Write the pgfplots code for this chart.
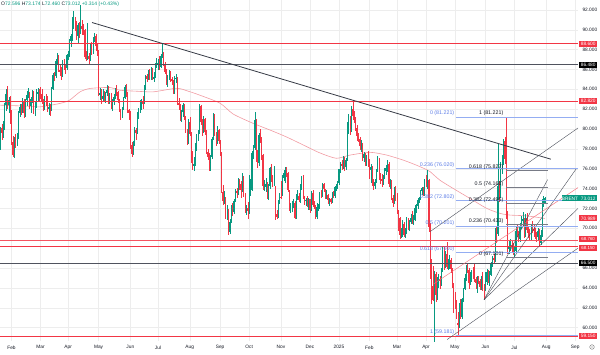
\documentclass[border=0pt]{standalone}
\usepackage{pgfplots}
\usepackage{pgfplotstable}
\pgfplotsset{compat=1.18}
\usepackage{fontspec}
\setmainfont{Liberation Sans}
\definecolor{upc}{HTML}{089981}
\definecolor{dnc}{HTML}{F23645}
\definecolor{mac}{HTML}{F19CA3}
\definecolor{fibb}{HTML}{94ADF2}
\definecolor{fibt}{HTML}{5B7BE6}
\definecolor{hg}{HTML}{50535E}
\definecolor{tl}{HTML}{363A45}
\definecolor{chn}{HTML}{4A4E59}
\definecolor{txt}{HTML}{131722}
\definecolor{rfg}{HTML}{787B86}

\pgfplotstableread{
i o h l c
0 79.05 79.30 78.35 78.56
1 78.60 80.20 77.85 80.06
2 80.10 80.50 78.90 79.55
3 79.60 80.80 79.10 80.04
4 80.00 82.60 79.90 82.43
5 82.40 84.00 81.80 83.55
6 83.60 84.30 82.00 82.40
7 82.40 83.20 81.60 82.87
8 82.90 83.30 80.50 81.71
9 81.70 81.90 78.40 78.70
10 78.70 79.30 77.20 77.40
11 77.40 79.20 77.10 78.99
12 79.00 79.50 78.10 78.59
13 78.60 79.60 78.30 79.21
14 79.20 81.80 79.00 81.63
15 81.60 82.50 81.20 82.19
16 82.20 82.50 81.40 82.00
17 82.00 83.10 81.60 82.77
18 82.80 83.00 81.10 81.60
19 81.60 83.00 81.20 82.86
20 82.90 83.80 82.30 83.47
21 83.50 84.10 83.10 83.56
22 83.50 83.70 82.00 82.34
23 82.30 83.20 81.60 83.03
24 83.00 83.90 82.60 83.67
25 83.60 83.80 81.50 81.62
26 81.60 82.70 81.30 82.53
27 82.50 84.00 82.10 83.65
28 83.60 84.10 82.70 83.68
29 83.70 84.00 82.80 83.62
30 83.60 84.20 83.00 83.55
31 83.50 84.00 82.50 82.80
32 82.80 83.00 81.80 82.04
33 82.00 83.30 81.90 82.96
34 83.00 83.50 82.30 82.90
35 83.00 83.30 81.70 82.08
36 82.10 82.60 81.40 82.21
37 82.20 82.50 81.30 81.92
38 81.90 84.20 81.80 84.03
39 84.00 85.60 83.90 85.42
40 85.40 85.70 84.80 85.34
41 85.30 87.00 85.10 86.89
42 86.90 87.70 86.40 87.38
43 87.40 87.50 85.70 85.95
44 85.90 86.40 85.30 85.78
45 85.80 86.20 84.90 85.43
46 85.40 86.90 85.20 86.75
47 86.70 87.00 85.90 86.25
48 86.20 86.50 85.50 86.09
49 86.10 87.60 85.90 87.48
50 87.40 87.90 86.90 87.42
51 87.40 89.10 87.20 88.92
52 88.90 89.60 88.30 89.35
53 89.30 91.30 88.90 90.65
54 90.60 91.90 90.10 91.17
55 91.20 91.30 89.90 90.38
56 90.40 90.90 89.00 89.42
57 89.40 90.70 88.60 90.48
58 90.50 90.80 89.20 89.74
59 89.80 92.50 89.60 90.45
60 90.40 91.00 89.50 90.10
61 90.10 90.60 89.50 90.02
62 90.00 90.10 87.00 87.29
63 87.30 87.90 86.80 87.11
64 87.10 90.70 86.90 87.29
65 87.30 87.70 86.50 87.00
66 87.00 88.70 86.80 88.42
67 88.40 88.80 87.50 88.02
68 88.00 89.30 87.60 89.01
69 89.00 89.70 88.80 89.50
70 89.40 89.60 87.90 88.40
71 88.40 88.70 87.30 87.86
72 87.80 88.00 83.30 83.44
73 83.40 84.10 82.90 83.67
74 83.60 84.00 82.50 82.96
75 83.00 84.00 82.70 83.33
76 83.30 83.80 82.80 83.16
77 83.20 83.70 82.60 83.58
78 83.60 84.40 83.30 83.88
79 83.90 84.30 82.50 82.79
80 82.80 83.60 82.50 83.36
81 83.30 83.60 82.00 82.38
82 82.40 83.00 81.80 82.75
83 82.80 83.50 82.40 83.27
84 83.30 84.10 83.00 83.98
85 84.00 84.40 83.30 83.71
86 83.70 83.80 82.60 82.88
87 82.90 83.00 81.70 81.90
88 81.90 82.00 80.90 81.36
89 81.40 82.20 81.10 82.12
90 82.10 83.20 81.90 83.10
91 83.10 84.40 83.00 84.22
92 84.20 84.50 83.20 83.60
93 83.60 83.70 81.60 81.86
94 81.90 82.00 80.90 81.62
95 81.60 81.80 78.00 78.36
96 78.40 78.70 77.20 77.52
97 77.50 78.80 77.40 78.41
98 78.40 80.20 78.30 79.87
99 79.90 80.10 78.90 79.62
100 79.60 81.70 79.50 81.63
101 81.60 82.10 81.00 81.92
102 81.90 82.90 81.60 82.60
103 82.60 83.00 81.90 82.75
104 82.70 83.30 82.00 82.62
105 82.60 84.40 82.50 84.25
106 84.20 85.40 83.90 85.33
107 85.30 85.50 84.70 85.07
108 85.10 85.90 84.90 85.71
109 85.70 86.00 84.90 85.24
110 85.20 86.20 84.90 86.01
111 86.00 86.10 84.90 85.01
112 85.00 85.70 84.70 85.25
113 85.20 86.60 85.10 86.39
114 86.40 87.10 86.10 86.45
115 86.40 87.00 85.90 86.60
116 86.60 87.30 85.90 86.24
117 86.20 87.60 86.10 87.34
118 87.30 88.60 87.10 87.43
119 87.40 87.80 86.30 86.54
120 86.50 86.70 85.50 85.75
121 85.70 86.00 84.40 84.66
122 84.70 85.40 84.20 85.08
123 85.10 85.90 84.90 85.40
124 85.40 85.80 84.70 85.03
125 85.00 85.20 84.40 84.85
126 84.80 84.90 83.50 83.73
127 83.70 85.30 83.50 85.08
128 85.10 85.50 84.60 85.15
129 85.10 85.20 82.40 82.63
130 82.60 83.10 81.90 82.40
131 82.40 82.50 80.80 81.01
132 81.00 81.90 80.70 81.71
133 81.70 82.60 81.20 82.37
134 82.40 82.50 80.90 81.13
135 81.10 81.30 79.60 79.78
136 79.80 80.00 78.40 78.63
137 78.60 81.00 78.50 80.72
138 80.70 81.20 79.30 79.52
139 79.50 79.70 76.60 76.81
140 76.80 77.80 75.90 76.30
141 76.30 77.20 75.80 76.48
142 76.50 78.60 76.30 78.33
143 78.30 79.50 77.80 79.16
144 79.20 79.90 78.80 79.66
145 79.70 82.50 79.50 82.30
146 82.30 82.40 80.40 80.69
147 80.70 81.00 79.30 79.76
148 79.80 81.30 79.60 81.04
149 81.00 81.10 79.40 79.68
150 79.70 79.90 77.50 77.66
151 77.70 78.00 76.90 77.20
152 77.20 77.60 75.80 76.05
153 76.10 77.40 75.80 77.22
154 77.20 79.20 77.00 79.02
155 79.00 81.60 78.90 81.43
156 81.40 81.50 79.30 79.55
157 79.50 79.70 78.30 78.65
158 78.70 80.30 78.50 79.94
159 79.90 80.00 78.50 78.80
160 78.80 78.90 77.30 77.52
161 77.50 77.70 73.60 73.75
162 73.70 74.40 72.30 72.70
163 72.70 73.80 72.40 72.75
164 72.70 73.20 70.90 71.06
165 71.10 72.30 70.80 71.84
166 71.80 71.90 69.35 69.60
167 69.60 70.90 69.40 70.61
168 70.60 72.30 70.50 71.97
169 72.00 72.50 71.20 71.61
170 71.60 72.90 71.40 72.75
171 72.70 74.00 72.60 73.70
172 73.70 74.10 73.10 73.65
173 73.60 75.10 73.40 74.88
174 74.90 75.00 73.90 74.49
175 74.50 74.80 73.00 73.90
176 73.90 75.60 73.70 75.17
177 75.20 75.30 73.20 73.46
178 73.40 73.60 71.50 71.60
179 71.60 72.30 71.30 71.98
180 72.00 72.60 70.90 71.77
181 71.80 75.40 71.40 73.56
182 73.60 75.00 73.30 73.90
183 73.90 77.80 73.80 77.62
184 77.60 78.40 77.00 78.05
185 78.10 81.70 77.90 80.93
186 80.90 81.00 76.70 77.18
187 77.20 77.90 76.10 76.58
188 76.60 79.60 76.30 79.40
189 79.40 80.00 78.60 79.04
190 79.00 79.20 76.90 77.46
191 77.40 77.50 73.90 74.25
192 74.20 74.90 73.80 74.30
193 74.20 75.10 73.70 74.45
194 74.40 74.70 72.90 73.06
195 73.10 74.50 72.80 74.29
196 74.30 76.20 74.00 76.04
197 76.00 76.50 74.70 74.96
198 75.00 75.40 74.20 74.38
199 74.40 76.30 74.30 76.05
200 74.00 74.30 70.80 71.42
201 71.40 71.80 70.90 71.12
202 71.10 72.80 71.00 72.55
203 72.60 73.60 72.40 73.16
204 73.20 74.80 72.90 73.10
205 73.50 75.40 73.30 75.08
206 75.10 75.90 74.80 75.53
207 75.50 76.20 74.60 75.92
208 75.90 76.20 75.20 75.63
209 75.60 75.70 73.70 73.87
210 73.80 73.90 71.70 71.83
211 71.80 72.50 71.50 71.89
212 71.90 72.70 71.60 72.28
213 72.30 72.90 72.00 72.56
214 72.50 72.70 70.90 71.04
215 71.00 73.50 70.90 73.30
216 73.30 73.90 72.80 73.31
217 73.30 73.60 72.60 72.81
218 72.80 74.50 72.50 74.23
219 74.20 75.30 73.90 75.17
220 75.10 75.40 72.90 73.01
221 73.00 73.30 72.30 72.81
222 72.80 73.10 72.20 72.83
223 72.80 73.30 72.10 72.28
224 72.30 73.10 71.80 72.94
225 72.90 72.90 71.50 71.83
226 71.80 73.80 71.70 73.62
227 73.60 73.90 72.10 72.31
228 72.30 72.70 71.90 72.09
229 72.10 72.30 70.90 71.12
230 71.10 72.50 70.90 72.14
231 72.10 72.40 71.70 72.19
232 72.20 73.70 71.90 73.52
233 73.50 73.90 73.10 73.41
234 73.40 74.60 73.20 74.49
235 74.50 74.60 73.70 73.91
236 73.90 74.00 72.90 73.19
237 73.20 73.90 72.90 73.39
238 73.40 73.50 72.40 72.88
239 72.90 73.10 72.20 72.94
240 72.90 73.10 72.40 72.63
241 72.60 73.70 72.50 73.58
242 73.60 73.80 73.00 73.26
243 73.30 74.30 73.10 74.17
244 74.20 74.50 73.80 74.39
245 74.40 74.80 74.00 74.64
246 74.60 76.00 74.40 75.93
247 75.90 76.70 75.60 76.51
248 76.50 76.90 75.90 76.30
249 76.30 77.30 76.00 77.05
250 77.10 77.20 75.80 76.16
251 76.20 77.10 75.90 76.92
252 76.90 80.70 76.80 79.76
253 79.80 81.50 79.50 81.01
254 81.00 81.30 79.40 79.92
255 79.90 82.30 79.70 82.03
256 82.00 82.85 80.90 81.29
257 81.30 81.80 80.60 81.00
258 81.00 81.20 79.80 80.15
259 80.10 80.40 78.80 79.29
260 79.30 79.60 78.70 79.00
261 79.00 79.20 77.90 78.29
262 78.30 78.90 77.70 78.50
263 78.40 78.60 76.80 77.08
264 77.10 77.70 76.70 77.49
265 77.50 77.60 76.30 76.58
266 76.60 77.40 76.30 76.87
267 76.90 77.80 76.20 76.76
268 76.70 77.00 75.00 75.96
269 75.90 76.50 74.60 76.20
270 76.20 76.30 74.30 74.61
271 74.60 75.00 73.90 74.29
272 74.30 75.00 74.00 74.66
273 74.70 76.00 74.60 75.87
274 75.90 77.30 75.70 77.00
275 77.00 77.10 74.90 75.18
276 75.20 75.60 74.50 75.02
277 75.00 75.50 74.20 74.74
278 74.70 75.40 74.40 75.22
279 75.20 76.10 75.00 75.84
280 75.80 76.40 75.40 76.04
281 76.00 76.90 75.70 76.48
282 76.50 76.70 74.20 74.43
283 74.40 75.00 74.00 74.78
284 74.80 74.90 72.80 73.02
285 73.00 73.40 72.10 72.53
286 72.50 74.20 72.40 74.04
287 74.00 74.30 72.70 73.18
288 73.20 73.60 71.40 71.62
289 71.60 71.80 69.70 71.04
290 71.00 71.10 68.95 69.30
291 69.30 70.00 69.00 69.46
292 69.50 70.80 69.10 70.36
293 70.40 70.60 69.10 69.28
294 69.30 70.00 69.05 69.56
295 69.60 71.10 69.40 70.95
296 70.90 71.00 69.80 69.88
297 69.90 70.80 69.70 70.58
298 70.60 71.40 70.40 71.07
299 71.10 71.70 70.40 70.56
300 70.60 71.30 70.30 70.78
301 70.80 72.30 70.70 72.00
302 72.00 72.40 71.50 72.16
303 72.20 73.00 71.90 72.83
304 72.80 73.20 72.50 73.02
305 73.00 73.90 72.80 73.79
306 73.80 74.20 73.40 74.03
307 74.00 74.20 73.30 73.63
308 73.60 75.00 73.30 74.74
309 74.70 75.40 74.20 74.49
310 74.50 75.90 74.00 74.95
311 74.90 75.00 69.60 70.14
312 70.10 70.50 64.90 65.58
313 65.50 66.90 62.40 64.21
314 64.20 66.20 62.70 62.82
315 62.80 65.70 58.40 65.48
316 65.40 65.60 62.60 63.33
317 63.30 65.10 62.80 64.76
318 64.70 65.40 64.00 64.88
319 64.90 65.20 63.90 64.67
320 64.60 66.00 64.20 65.85
321 65.80 68.20 65.60 67.96
322 67.90 68.10 65.80 66.26
323 66.30 67.70 66.00 67.44
324 67.40 68.60 65.90 66.12
325 66.10 66.90 65.80 66.55
326 66.50 67.30 65.90 66.87
327 66.80 67.00 65.50 65.86
328 65.80 66.00 64.00 64.25
329 64.20 64.50 61.50 63.12
330 63.10 63.60 61.90 62.13
331 62.10 62.80 60.90 61.29
332 60.50 61.60 59.18 60.23
333 60.20 62.50 60.00 62.15
334 62.10 62.90 60.90 61.12
335 61.10 63.00 60.90 62.84
336 62.80 64.00 62.60 63.91
337 63.90 65.40 63.80 64.96
338 65.00 66.30 64.70 66.10
339 66.10 66.50 65.50 65.80
340 65.80 66.00 63.90 64.53
341 64.50 65.60 64.30 65.41
342 65.40 65.80 64.60 65.54
343 65.50 66.10 64.90 65.38
344 65.40 66.50 64.60 64.91
345 64.90 65.10 63.90 64.44
346 64.40 65.20 63.50 64.78
347 64.80 65.20 64.40 64.74
348 64.70 64.90 63.80 64.09
349 64.10 65.20 63.80 64.90
350 64.90 65.60 63.70 64.15
351 64.20 64.40 62.80 63.90
352 63.90 65.60 63.70 64.63
353 64.60 65.90 64.30 65.63
354 65.60 65.80 64.50 64.86
355 64.90 65.70 64.20 65.34
356 65.30 66.60 65.20 66.47
357 66.50 67.20 66.10 67.04
358 67.00 67.40 66.40 66.87
359 66.90 70.00 66.60 69.77
360 69.80 70.20 68.50 69.36
361 69.40 78.50 69.20 74.23
362 74.20 74.80 72.60 73.23
363 73.20 76.70 73.00 76.45
364 76.40 77.40 75.50 76.70
365 76.70 79.00 76.40 78.85
366 78.80 79.20 76.50 77.01
367 77.00 81.221 70.90 71.48
368 71.40 71.70 67.40 67.90
369 67.90 68.80 67.40 68.20
370 68.20 68.90 67.70 68.30
371 68.30 68.80 67.60 68.10
372 68.10 68.50 67.30 67.60
373 67.60 68.10 67.101 67.70
374 67.70 70.20 67.50 69.70
375 69.70 70.40 69.10 69.40
376 69.40 69.70 68.60 68.90
377 68.90 70.50 68.60 70.20
378 70.20 71.20 69.90 70.80
379 70.80 71.60 70.20 70.90
380 70.90 71.00 69.00 69.20
381 69.20 71.40 69.10 71.00
382 71.00 71.50 69.50 69.80
383 69.80 70.10 69.00 69.30
384 69.30 69.90 68.70 69.10
385 69.10 70.30 68.80 70.10
386 70.10 70.70 69.50 69.90
387 69.90 70.30 69.10 69.80
388 69.80 70.00 68.90 69.20
389 69.20 69.60 68.60 69.10
390 69.10 70.00 68.80 69.70
391 69.70 69.90 68.20 68.50
392 68.50 69.80 68.30 69.30
393 69.30 72.90 69.10 72.60
394 72.60 73.30 72.10 72.698
395 72.596 73.174 72.460 73.012
}\brent

\newcommand{\sm}{\fontsize{4.8}{5.6}\selectfont}
\newcommand{\fb}{\fontsize{5.3}{6}\selectfont}
\pgfplotsset{candle/.style={only marks, mark=*, mark size=0pt, mark options={draw=none, fill=none}, forget plot,
  error bars/.cd, y dir=both, y explicit, error mark=none}}

\begin{document}
\begin{tikzpicture}[x=1pt,y=1pt]
\path[use as bounding box] (0,0) rectangle (600,354);
\begin{axis}[
  at={(0,13)}, anchor=south west,
  scale only axis, width=578pt, height=341pt,
  xmin=0.68, xmax=419, ymin=58.64, ymax=92.98,
  axis line style={draw=none},
  tick style={draw=none},
  major tick length=0pt,
  grid=major, grid style={line width=0.3pt, black!7},
  ytick={60,62,64,66,70,72,74,76,78,80,82,84,86,88,90,92},
  yticklabel pos=right,
  yticklabel style={font=\sm, text=txt, xshift=1pt, /pgf/number format/.cd, fixed, fixed zerofill, precision=3, assume math mode=true},
  xtick={9,30,50,72,95,115,138,160,181,204,225,246,268,288,309,330,352,373,396,417},
  xticklabels={Feb,Mar,Apr,May,Jun,Jul,Aug,Sep,Oct,Nov,Dec,2025,Feb,Mar,Apr,May,Jun,Jul,Aug,Sep},
  xticklabel style={font=\sm, text=txt, yshift=-1pt},
]
% 200-day moving average
\addplot[mac, line width=0.6pt, smooth, tension=0.4, forget plot] coordinates {
(0.7,82.4) (20,82.3) (29.6,82.23) (44,82.57) (51,82.9) (58.6,83.74) (65.8,84.08) (80,84.18) (87.5,83.9) (100,83.8) (111.6,83.74) (128.6,84.1) (137,83.8) (145.4,83.4) (159.9,82.6) (169.5,81.5) (184,80.56) (196,79.9) (208,79.2) (220,78.4) (232,77.6) (244,77.05) (254,77.37) (268.5,77.65) (280.6,77.37) (292.6,76.86) (302,76.36) (309.5,75.9) (312,75.7) (319,74.85) (328.8,74.0) (340.9,73.0) (353,72.0) (362.6,71.5) (369.8,71.33) (382,71.25) (395,70.99)};

% candles: wicks
\addplot[candle, error bar style={upc, line width=0.35pt}]
  table[x=i, y expr={\thisrow{c}>=\thisrow{o} ? 0.5*(\thisrow{h}+\thisrow{l}) : nan}, y error expr={0.5*(\thisrow{h}-\thisrow{l})}] {\brent};
\addplot[candle, error bar style={dnc, line width=0.35pt}]
  table[x=i, y expr={\thisrow{c}<\thisrow{o} ? 0.5*(\thisrow{h}+\thisrow{l}) : nan}, y error expr={0.5*(\thisrow{h}-\thisrow{l})}] {\brent};
% candles: bodies
\addplot[candle, error bar style={upc, line width=0.95pt}]
  table[x=i, y expr={\thisrow{c}>=\thisrow{o} ? 0.5*(\thisrow{o}+\thisrow{c}) : nan}, y error expr={max(0.5*abs(\thisrow{c}-\thisrow{o}),0.05)}] {\brent};
\addplot[candle, error bar style={dnc, line width=0.95pt}]
  table[x=i, y expr={\thisrow{c}<\thisrow{o} ? 0.5*(\thisrow{o}+\thisrow{c}) : nan}, y error expr={max(0.5*abs(\thisrow{c}-\thisrow{o}),0.05)}] {\brent};

% horizontal levels
\addplot[dnc, line width=0.7pt, forget plot] coordinates {(0.68,88.6) (419,88.6)};
\addplot[hg, line width=0.7pt, forget plot] coordinates {(0.68,86.48) (419,86.48)};
\addplot[dnc, line width=0.7pt, forget plot] coordinates {(0.68,82.82) (419,82.82)};
\addplot[dnc!85, line width=0.6pt, forget plot] coordinates {(0.68,68.76) (419,68.76)};
\addplot[dnc, line width=0.7pt, forget plot] coordinates {(0.68,68.15) (419,68.15)};
\addplot[hg, line width=0.7pt, forget plot] coordinates {(0.68,66.5) (419,66.5)};
\addplot[dnc, line width=0.7pt, forget plot] coordinates {(0.68,59.15) (419,59.15)};

% descending trend line
\addplot[tl, line width=0.8pt, forget plot] coordinates {(67.3,90.72) (399.3,76.96)};

% channel and fan lines
\addplot[chn, line width=0.4pt, forget plot] coordinates {(312,69.67) (419,80.1)};
\addplot[chn, line width=0.4pt, forget plot] coordinates {(324.3,58.8) (419,68.0)};
\addplot[dnc!70, line width=0.45pt, forget plot] coordinates {(314.5,64.4) (419,74.1)};
\addplot[chn, line width=0.4pt, forget plot] coordinates {(351,62.8) (418,76.05)};
\addplot[chn, line width=0.4pt, forget plot] coordinates {(351,62.8) (397,74.9)};
\addplot[chn, line width=0.4pt, forget plot] coordinates {(351,62.8) (419,72.0)};

% fib retracement (blue)
\addplot[fibb, line width=0.6pt, forget plot] coordinates {(331,81.221) (419,81.221)};
\addplot[fibb, line width=0.6pt, forget plot] coordinates {(331,76.02) (419,76.02)};
\addplot[fibb, line width=0.6pt, forget plot] coordinates {(331,72.802) (419,72.802)};
\addplot[fibb, line width=0.6pt, forget plot] coordinates {(331,70.201) (419,70.201)};
\addplot[fibb, line width=0.6pt, forget plot] coordinates {(331,67.6) (419,67.6)};
\addplot[fibb, line width=0.6pt, forget plot] coordinates {(331,59.181) (419,59.181)};
% fib retracement (grey)
\addplot[rfg, line width=0.6pt, forget plot] coordinates {(367,75.827) (397,75.827)};
\addplot[rfg, line width=0.6pt, forget plot] coordinates {(367,74.161) (397,74.161)};
\addplot[rfg, line width=0.6pt, forget plot] coordinates {(367,72.495) (397,72.495)};
\addplot[rfg, line width=0.6pt, forget plot] coordinates {(367,70.433) (397,70.433)};
\addplot[rfg, line width=0.6pt, forget plot] coordinates {(367,67.101) (397,67.101)};

\begin{scope}[every node/.style={font=\fb, inner sep=0.6pt, anchor=south east}]
\node[text=fibt] at (axis cs:330,81.221) {0 (81.221)};
\node[text=fibt] at (axis cs:330,76.02) {0.236 (76.020)};
\node[text=fibt] at (axis cs:330,72.802) {0.382 (72.802)};
\node[text=fibt] at (axis cs:330,70.201) {0.5 (70.201)};
\node[text=fibt] at (axis cs:330,67.6) {0.618 (67.600)};
\node[text=fibt] at (axis cs:330,59.181) {1 (59.181)};
\node[text=txt] at (axis cs:365.5,81.221) {1 (81.221)};
\node[text=txt] at (axis cs:365.5,75.827) {0.618 (75.827)};
\node[text=txt] at (axis cs:365.5,74.161) {0.5 (74.161)};
\node[text=txt] at (axis cs:365.5,72.495) {0.382 (72.495)};
\node[text=txt] at (axis cs:365.5,70.433) {0.236 (70.433)};
\node[text=txt] at (axis cs:365.5,67.101) {0 (67.101)};
\end{scope}

\coordinate (r1) at (axis cs:419,88.6);
\coordinate (r2) at (axis cs:419,86.48);
\coordinate (r3) at (axis cs:419,82.82);
\coordinate (r4) at (axis cs:419,73.012);
\coordinate (r5) at (axis cs:419,70.989);
\coordinate (r6) at (axis cs:419,68.76);
\coordinate (r7) at (axis cs:419,68.15);
\coordinate (r8) at (axis cs:419,66.5);
\coordinate (r9) at (axis cs:419,59.15);
\end{axis}

\begin{scope}[every node/.style={font=\sm, text=white, inner sep=0pt, minimum width=18pt, minimum height=6pt, anchor=west, xshift=1pt}]
\node[fill=dnc] at (r1) {88.600};
\node[fill=black] at (r2) {86.480};
\node[fill=dnc] at (r3) {82.820};
\node[fill=upc] at (r4) {73.012};
\node[fill=upc, anchor=east, xshift=-0.3pt, minimum width=17pt] at (r4) {BRENT};
\node[fill=dnc] at (r5) {70.989};
\node[fill=dnc, yshift=1.4pt, minimum height=5.6pt, font=\fontsize{4.4}{5}\selectfont] at (r6) {68.760};
\node[fill=dnc, yshift=-1.2pt, minimum height=5.6pt, font=\fontsize{4.4}{5}\selectfont] at (r7) {68.150};
\node[fill=black] at (r8) {66.500};
\node[fill=dnc] at (r9) {59.150};
\end{scope}

% header
\node[anchor=west, font=\fontsize{5}{6}\selectfont, inner sep=0pt] at (1,349.5)
 {\textcolor{txt}{O}\textcolor{upc}{72.596} \textcolor{txt}{H}\textcolor{upc}{73.174} \textcolor{txt}{L}\textcolor{upc}{72.460} \textcolor{txt}{C}\textcolor{upc}{73.012} \textcolor{upc}{+0.314 (+0.43\%)}};
% settings icon
\draw[black!55, line width=0.4pt] (592,7) circle (2.3);
\fill[black!55] (592,7) circle (0.7);
\end{tikzpicture}
\end{document}
